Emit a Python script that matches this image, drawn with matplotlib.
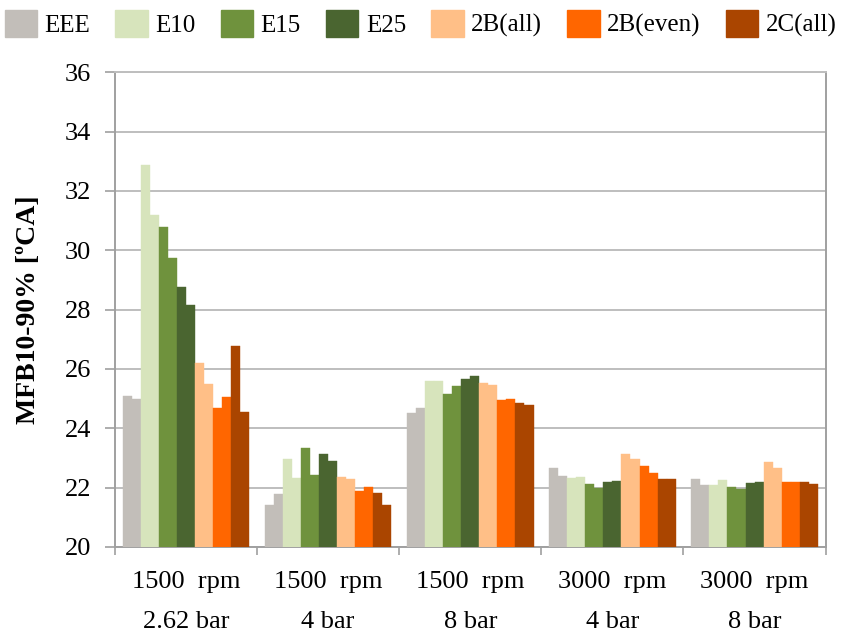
import matplotlib
matplotlib.use("Agg")
import matplotlib.pyplot as plt
import numpy as np
from matplotlib.patches import Patch

plt.rcParams['font.family'] = ['Liberation Serif', 'DejaVu Serif']

# Operating points (engine speed / load)
categories = ["1500  rpm\n2.62 bar", "1500  rpm\n4 bar", "1500  rpm\n8 bar",
              "3000  rpm\n4 bar", "3000  rpm\n8 bar"]

series_names = ["EEE", "E10", "E15", "E25", "2B(all)", "2B(even)", "2C(all)"]
series_colors = ["#C2BEB9", "#D7E4BC", "#6F923D", "#4A6530",
                 "#FFBF87", "#FF6600", "#AA4500"]

# Two measurements per series at each operating point
eee     = [[25.09, 25.00], [21.42, 21.78], [24.50, 24.70], [22.67, 22.40], [22.30, 22.09]]
e10     = [[32.88, 31.20], [22.96, 22.33], [25.58, 25.58], [22.34, 22.36], [22.09, 22.26]]
e15     = [[30.79, 29.74], [23.34, 22.44], [25.15, 25.42], [22.11, 22.00], [22.02, 21.94]]
e25     = [[28.75, 28.15], [23.15, 22.90], [25.67, 25.77], [22.19, 22.23], [22.14, 22.19]]
b2_all  = [[26.20, 25.49], [22.37, 22.30], [25.52, 25.45], [23.13, 22.97], [22.87, 22.65]]
b2_even = [[24.68, 25.06], [21.89, 22.01], [24.96, 25.00], [22.72, 22.50], [22.20, 22.20]]
c2_all  = [[26.76, 24.55], [21.82, 21.41], [24.85, 24.79], [22.29, 22.29], [22.20, 22.11]]

series_values = [eee, e10, e15, e25, b2_all, b2_even, c2_all]

fig = plt.figure(figsize=(8.41, 6.39), dpi=100)
ax = fig.add_axes([0.1367, 0.144, 0.845, 0.743])

n_bars = len(series_names) * 2
group_width = 0.89
bar_w = group_width / n_bars
x = np.arange(len(categories))
base = 20

for s, (vals, color) in enumerate(zip(series_values, series_colors)):
    for k in range(2):
        offs = -group_width / 2 + (2 * s + k + 0.5) * bar_w
        heights = [v[k] - base for v in vals]
        ax.bar(x + offs, heights, width=bar_w, bottom=base, color=color,
               edgecolor=color, linewidth=0.3, zorder=3)

ax.set_ylim(20, 36)
ax.set_xlim(-0.5, len(categories) - 0.5)
ax.set_yticks(np.arange(20, 37, 2))
ax.yaxis.grid(True, color="#BEBEBE", linewidth=1.4, zorder=0)
ax.set_axisbelow(True)

ax.set_xticks(x)
ax.set_xticklabels(categories, fontsize=19, linespacing=2.1)
ax.set_xticks(np.arange(-0.5, len(categories), 1.0), minor=True)
ax.tick_params(axis='x', which='major', length=0, pad=17)
ax.tick_params(axis='x', which='minor', length=6, color="#A0A0A0", width=1.2)
ax.tick_params(axis='y', length=7, color="#A0A0A0", width=1.2, labelsize=19, pad=10)

for side in ["left", "bottom", "right", "top"]:
    ax.spines[side].set_color("#A0A0A0")
    ax.spines[side].set_linewidth(1.4)
ax.spines["top"].set_color("#BEBEBE")

ax.set_ylabel("MFB10-90% [ºCA]", fontsize=20, fontweight='bold')
ax.yaxis.set_label_coords(-0.104, 0.5)

handles = [Patch(facecolor=c, edgecolor=c) for c in series_colors]
fig.legend(handles, series_names, loc='upper center', bbox_to_anchor=(0.5, 1.02),
           ncol=7, frameon=False, fontsize=18, handlelength=1.3, handleheight=1.3,
           handletextpad=0.3, columnspacing=1.0)

fig.savefig("out.png", dpi=100)
